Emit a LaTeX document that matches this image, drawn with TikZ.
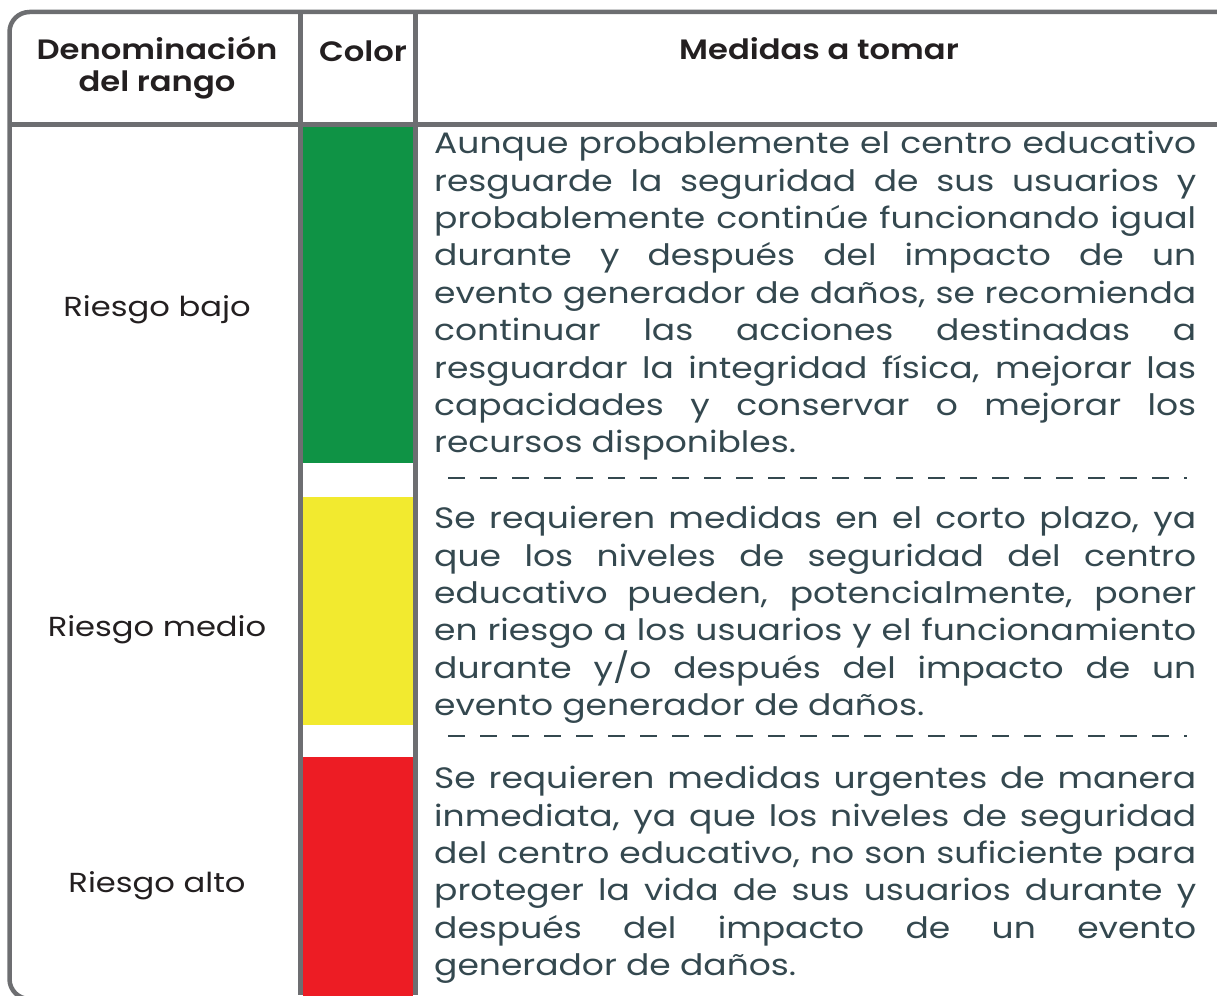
\documentclass[tikz,border=0pt]{standalone}
\usepackage{fontspec}
\setmainfont{Poppins}[FakeStretch=1.17, BoldFont={Poppins SemiBold}, BoldFeatures={FakeStretch=1.15}]
\usetikzlibrary{positioning}
\definecolor{rulegray}{HTML}{6D6E71}
\definecolor{headblack}{HTML}{231F20}
\definecolor{bodyslate}{HTML}{34484F}
\definecolor{riskgreen}{HTML}{0F9345}
\definecolor{riskyellow}{HTML}{F2EA2F}
\definecolor{riskred}{HTML}{ED1C24}
\tikzset{rulel/.style={draw=rulegray, line width=4.5pt}}
\tikzset{headtxt/.style={font=\fontsize{28}{32}\selectfont\bfseries, text=headblack, align=center, inner sep=0pt}}
\tikzset{rangetxt/.style={font=\fontsize{27.5}{32}\selectfont, text=headblack, inner sep=0pt}}
\tikzset{bodytxt/.style={font=\fontsize{29.5}{37.4}\selectfont, text=bodyslate, text width=762pt, align=justify, inner sep=0pt, anchor=north west}}
\tikzset{colorcell/.style={minimum width=110.5pt, inner sep=0pt}}
\tikzset{sepline/.style={draw=bodyslate, line width=2.5pt, dash pattern=on 17pt off 15pt}}

\begin{document}
\begin{tikzpicture}[x=1pt,y=-1pt]
\useasboundingbox (0,0) rectangle (1217,995);

\begin{scope}
\clip (0,0) rectangle (1217,995);
% colour column
\node[colorcell, fill=riskgreen, minimum height=336pt] (verde) at (358,295) {};
\node[colorcell, fill=riskyellow, minimum height=228pt] (amarillo) at (358,611) {};
\node[colorcell, fill=riskred, minimum height=240pt] (rojo) at (358,877) {};

% table rules
\draw[rulel, rounded corners=20pt] (9.5,12) rectangle (1260,999);
\draw[rulel] (9.5,124.5) -- (1217,124.5);
\draw[rulel] (300.5,12) -- (300.5,995);
\draw[rulel] (415.5,12) -- (415.5,995);
\end{scope}

% header
\node[headtxt] (denom) at (157,68) {Denominación\\del rango};
\node[headtxt] (color) at (363,51) {Color};
\node[headtxt] (medidas) at (819,49) {Medidas a tomar};

% ranges
\node[rangetxt] (bajo) at (157,310) {Riesgo bajo};
\node[rangetxt] (medio) at (157,630) {Riesgo medio};
\node[rangetxt] (alto) at (157,886) {Riesgo alto};

% measures
\node[bodytxt] (txtbajo) at (434,131) {\hyphenpenalty=10000\noindent
Aunque probablemente el centro educativo\linebreak
resguarde la seguridad de sus usuarios y\linebreak
probablemente continúe funcionando igual\linebreak
durante y después del impacto de un\linebreak
evento generador de daños, se recomienda\linebreak
continuar las acciones destinadas a\linebreak
resguardar la integridad física, mejorar las\linebreak
capacidades y conservar o mejorar los\linebreak
recursos disponibles.};

\node[bodytxt] (txtmedio) at (434,506) {\hyphenpenalty=10000\noindent
Se requieren medidas en el corto plazo, ya\linebreak
que los niveles de seguridad del centro\linebreak
educativo pueden, potencialmente, poner\linebreak
en riesgo a los usuarios y el funcionamiento\linebreak
durante y/o después del impacto de un\linebreak
evento generador de daños.};

\node[bodytxt] (txtalto) at (434,766) {\hyphenpenalty=10000\noindent
Se requieren medidas urgentes de manera\linebreak
inmediata, ya que los niveles de seguridad\linebreak
del centro educativo, no son suficiente para\linebreak
proteger la vida de sus usuarios durante y\linebreak
después del impacto de un evento\linebreak
generador de daños.};

% separators
\coordinate (sepa1) at (448,478);
\coordinate (sepa2) at (1187,478);
\coordinate (sepb1) at (448,736);
\coordinate (sepb2) at (1187,736);
\draw[sepline] (sepa1) -- (sepa2);
\draw[sepline] (sepb1) -- (sepb2);

\end{tikzpicture}
\end{document}
